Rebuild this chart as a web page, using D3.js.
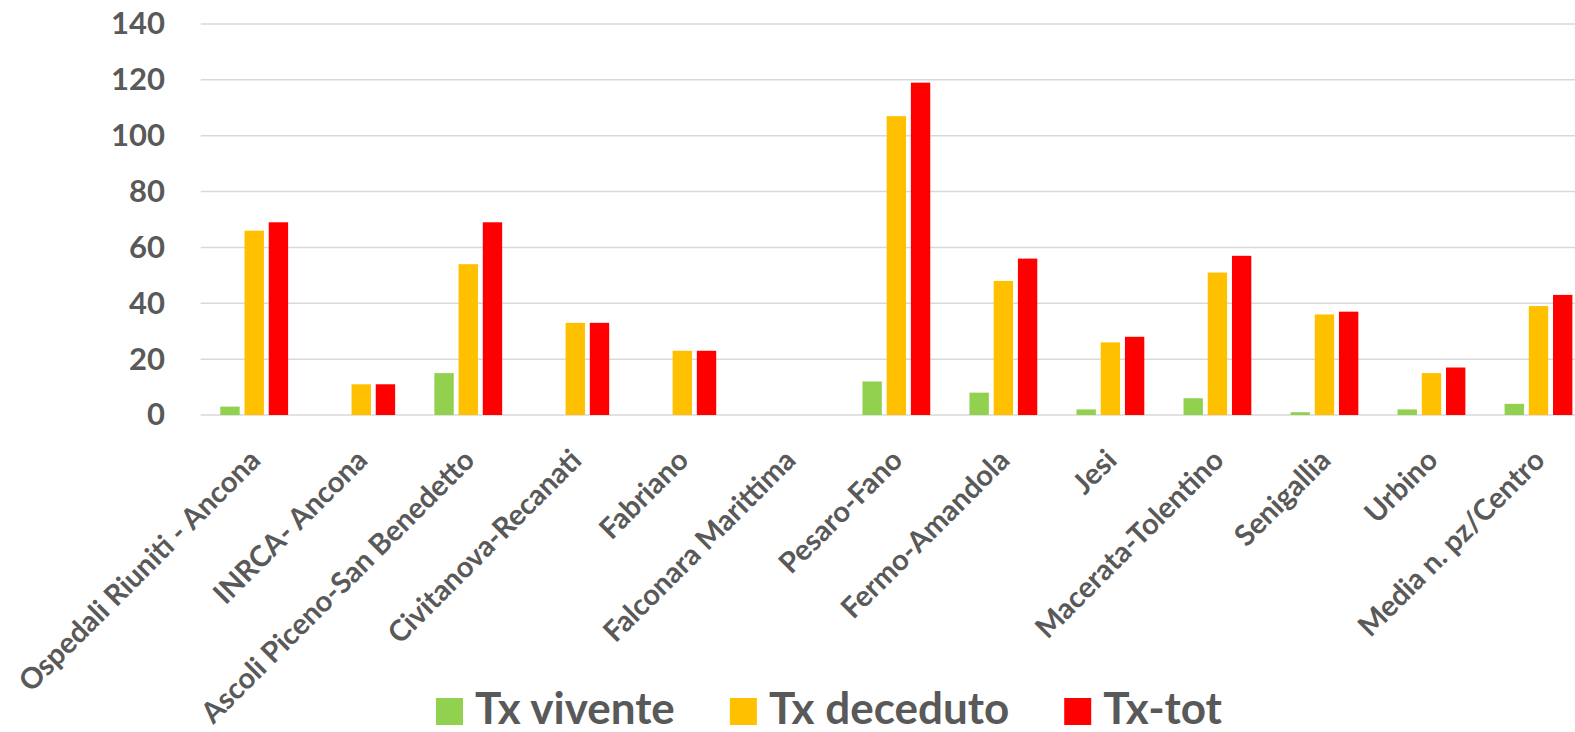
<!DOCTYPE html>
<html>
<head>
<meta charset="utf-8">
<script src="https://cdn.jsdelivr.net/npm/d3@7/dist/d3.min.js"></script>
<style>
  html, body { margin: 0; padding: 0; background: #fff; }
  svg { display: block; font-family: Lato, "Open Sans", sans-serif; }
</style>
</head>
<body>
<svg id="chart" width="1575" height="732"></svg>
<script>
// Transplant centres (Marche region)
const categories = [
  "Ospedali Riuniti - Ancona",
  "INRCA- Ancona",
  "Ascoli Piceno-San Benedetto",
  "Civitanova-Recanati",
  "Fabriano",
  "Falconara Marittima",
  "Pesaro-Fano",
  "Fermo-Amandola",
  "Jesi",
  "Macerata-Tolentino",
  "Senigallia",
  "Urbino",
  "Media n. pz/Centro"
];

const seriesNames = ["Tx vivente", "Tx deceduto", "Tx-tot"];
const seriesColors = ["#92D050", "#FFC000", "#FF0000"];

const txVivente   = [3, 0, 15, 0, 0, 0, 12, 8, 2, 6, 1, 2, 4];
const txDeceduto  = [66, 11, 54, 33, 23, 0, 107, 48, 26, 51, 36, 15, 39];
const txTot       = [69, 11, 69, 33, 23, 0, 119, 56, 28, 57, 37, 17, 43];

const yTicks = [0, 20, 40, 60, 80, 100, 120, 140];

const seriesValues = [txVivente, txDeceduto, txTot];

const svg = d3.select("#chart");
const textColor = "#595959";
const gridColor = "#D9D9D9";

// Plot area
const plotLeft = 200.7, plotRight = 1592;
const plotTop = 24, plotBottom = 415;

const x0 = d3.scaleBand()
  .domain(categories)
  .range([plotLeft, plotRight])
  .paddingInner(0)
  .paddingOuter(0);

const x1 = d3.scaleBand()
  .domain(seriesNames)
  .range([0, x0.bandwidth()])
  .paddingInner(0.2)
  .paddingOuter(0.81);

const y = d3.scaleLinear()
  .domain([0, 140])
  .range([plotBottom, plotTop]);

// Horizontal gridlines
svg.append("g")
  .selectAll("line")
  .data(yTicks)
  .join("line")
  .attr("x1", plotLeft)
  .attr("x2", 1575)
  .attr("y1", d => y(d))
  .attr("y2", d => y(d))
  .attr("stroke", gridColor)
  .attr("stroke-width", 1.5);

// Y axis labels
const yAxis = d3.axisLeft(y).tickValues(yTicks).tickSize(0).tickPadding(0);
const yG = svg.append("g")
  .attr("transform", "translate(165,0)")
  .call(yAxis);
yG.select(".domain").remove();
yG.selectAll("text")
  .attr("fill", textColor)
  .attr("font-size", 31)
  .attr("font-weight", "bold")
  .attr("font-family", "Lato, sans-serif");

// Bars
const rows = categories.map((c, i) => ({
  cat: c,
  vals: seriesNames.map((s, k) => ({ s, v: seriesValues[k][i], color: seriesColors[k] }))
}));

svg.append("g")
  .selectAll("g")
  .data(rows)
  .join("g")
  .attr("transform", d => `translate(${x0(d.cat)},0)`)
  .selectAll("rect")
  .data(d => d.vals.filter(v => v.v > 0))
  .join("rect")
  .attr("x", d => x1(d.s))
  .attr("width", x1.bandwidth())
  .attr("y", d => y(d.v))
  .attr("height", d => y(0) - y(d.v))
  .attr("fill", d => d.color);

// Rotated category labels
svg.append("g")
  .selectAll("text")
  .data(categories)
  .join("text")
  .attr("transform", d => `translate(${x0(d) + x0.bandwidth() / 2 + 8},${plotBottom + 47}) rotate(-45)`)
  .attr("text-anchor", "end")
  .attr("fill", textColor)
  .attr("font-size", 29)
  .attr("font-weight", "bold")
  .text(d => d);

// Legend
const legend = svg.append("g");
let lx = 436;
seriesNames.forEach((name, k) => {
  legend.append("rect")
    .attr("x", lx)
    .attr("y", 698)
    .attr("width", 27)
    .attr("height", 27)
    .attr("fill", seriesColors[k]);
  const t = legend.append("text")
    .attr("x", lx + 39)
    .attr("y", 724)
    .attr("fill", textColor)
    .attr("font-size", 44)
    .attr("font-weight", "bold")
    .text(name);
  lx += 39 + t.node().getComputedTextLength() + 55;
});
</script>
</body>
</html>
